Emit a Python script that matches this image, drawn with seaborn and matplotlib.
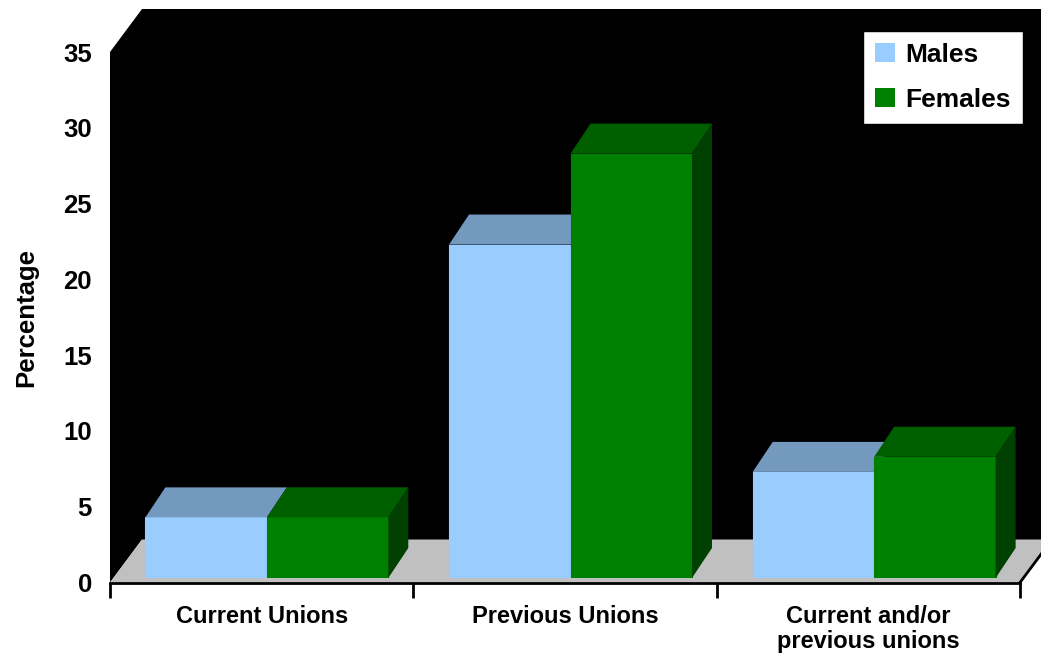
import matplotlib
matplotlib.use("Agg")
import matplotlib.pyplot as plt
from matplotlib.patches import Polygon, Patch
import numpy as np
import pandas as pd
import seaborn as sns

# ---- data -------------------------------------------------------------
categories = ["Current Unions", "Previous Unions", "Current and/or\nprevious unions"]
males = [4, 22, 7]
females = [4, 28, 8]
series_names = ["Males", "Females"]
y_ticks = [0, 5, 10, 15, 20, 25, 30, 35]

df = pd.DataFrame({
    "category": categories * 2,
    "value": males + females,
    "sex": [series_names[0]] * len(categories) + [series_names[1]] * len(categories),
})

# ---- style ------------------------------------------------------------
sns.set_style("white")
plt.rcParams["font.family"] = ["Liberation Sans", "DejaVu Sans"]
plt.rcParams["font.weight"] = "bold"
for key in ["text.color", "axes.labelcolor", "xtick.color", "ytick.color"]:
    plt.rcParams[key] = "black"

front_colors = {"Males": "#99CCFF", "Females": "#008000"}


def shade(hex_color, k):
    r, g, b = matplotlib.colors.to_rgb(hex_color)
    return (r * k, g * k, b * k)


W, H = 1041, 658
fig = plt.figure(figsize=(W / 100, H / 100), dpi=100)
fig.patch.set_facecolor("white")

# front plane of the chart box (walls, floor, axis text)
fl, fr, fb, ft = 110, 1020, 582.5, 52
frame = fig.add_axes([fl / W, 1 - fb / H, (fr - fl) / W, (fb - ft) / H])
frame.set_xlim(-0.5, 2.5)
frame.set_ylim(0, 35)
frame.patch.set_visible(False)
for s in ["left", "right", "top"]:
    frame.spines[s].set_visible(False)
frame.spines["bottom"].set_color("black")
frame.spines["bottom"].set_linewidth(2)
frame.spines["bottom"].set_zorder(5)

# depth of the box, in axes fraction
DX = 32 / (fr - fl)
DY = 43 / (fb - ft)
box_kw = dict(transform=frame.transAxes, clip_on=False, linewidth=0)
frame.add_patch(Polygon([(0, 0), (0, 1), (DX, 1 + DY), (DX, DY)],
                        closed=True, facecolor="black", zorder=0, **box_kw))
frame.add_patch(Polygon([(DX, DY), (DX, 1 + DY), (1.2, 1 + DY), (1.2, DY)],
                        closed=True, facecolor="black", zorder=0, **box_kw))
frame.add_patch(Polygon([(0, 0), (1, 0), (1 + DX, DY), (DX, DY)],
                        closed=True, facecolor="#C0C0C0", zorder=1, **box_kw))
frame.plot([1, 1 + DX], [0, DY], color="black", lw=2,
           transform=frame.transAxes, clip_on=False, zorder=5)

# ticks and labels
frame.set_xticks([-0.5, 0.5, 1.5, 2.5])
frame.set_xticklabels([])
frame.set_xticks([0, 1, 2], minor=True)
frame.set_xticklabels(categories, minor=True, fontsize=17, fontweight="bold",
                      linespacing=1.15)
frame.tick_params(axis="x", which="major", direction="out", length=11,
                  width=2, color="black", bottom=True)
frame.tick_params(axis="x", which="minor", length=0, pad=16)
frame.set_yticks(y_ticks)
frame.set_yticklabels([str(t) for t in y_ticks], fontsize=18.5, fontweight="bold")
frame.tick_params(axis="y", length=0, pad=13)
frame.set_ylabel("Percentage", fontsize=18.5, fontweight="bold", labelpad=18)

# plane of the bar front faces (slightly inside the box)
bl, br, bb = 115, 1026, 578
ppu = (fb - ft) / 35
bars_ax = fig.add_axes([bl / W, 1 - bb / H, (br - bl) / W, (35 * ppu) / H])
bars_ax.set_zorder(frame.get_zorder() + 1)
bars_ax.patch.set_visible(False)

sns.barplot(data=df, x="category", y="value", hue="sex",
            hue_order=series_names, palette=front_colors, width=0.8,
            saturation=1, legend=False, ax=bars_ax, linewidth=0)
bars_ax.set_xlim(-0.5, 2.5)
bars_ax.set_ylim(0, 35)
bars_ax.axis("off")

# 3-D top and side faces of each bar, depth in data units
bar_dx = 20 / ((br - bl) / 3)
bar_dy = 30 / ppu
n = len(categories)
for i, p in enumerate(bars_ax.patches[: 2 * n]):
    k = i // n
    name = series_names[k]
    z = 2 + k
    p.set_zorder(z)
    # thin same-colour edge so touching bars leave no seam
    p.set_edgecolor(front_colors[name])
    p.set_linewidth(0.8)
    x0, w, h = p.get_x(), p.get_width(), p.get_height()
    x1 = x0 + w
    top = Polygon([(x0, h), (x1, h), (x1 + bar_dx, h + bar_dy), (x0 + bar_dx, h + bar_dy)],
                  closed=True, facecolor=shade(front_colors[name], 0.75),
                  linewidth=0, clip_on=False, zorder=z)
    bars_ax.add_patch(top)
    # only the right-hand bar of each pair shows its side face
    if k == len(series_names) - 1:
        side = Polygon([(x1, 0), (x1 + bar_dx, bar_dy), (x1 + bar_dx, h + bar_dy), (x1, h)],
                       closed=True, facecolor=shade(front_colors[name], 0.5),
                       linewidth=0, clip_on=False, zorder=z)
        bars_ax.add_patch(side)

# legend
handles = [Patch(facecolor=front_colors[s], edgecolor="none", label=s) for s in series_names]
leg = fig.legend(handles=handles, loc="upper right",
                 bbox_to_anchor=(1023 / W, 1 - 31 / H), frameon=True,
                 fancybox=False, framealpha=1, edgecolor="black",
                 prop={"size": 19, "weight": "bold"}, handlelength=0.75,
                 handleheight=0.75, handletextpad=0.4, labelspacing=0.8,
                 borderpad=0.45, borderaxespad=0)
leg.get_frame().set_linewidth(1)

fig.savefig("out.png", dpi=100, facecolor="white")
